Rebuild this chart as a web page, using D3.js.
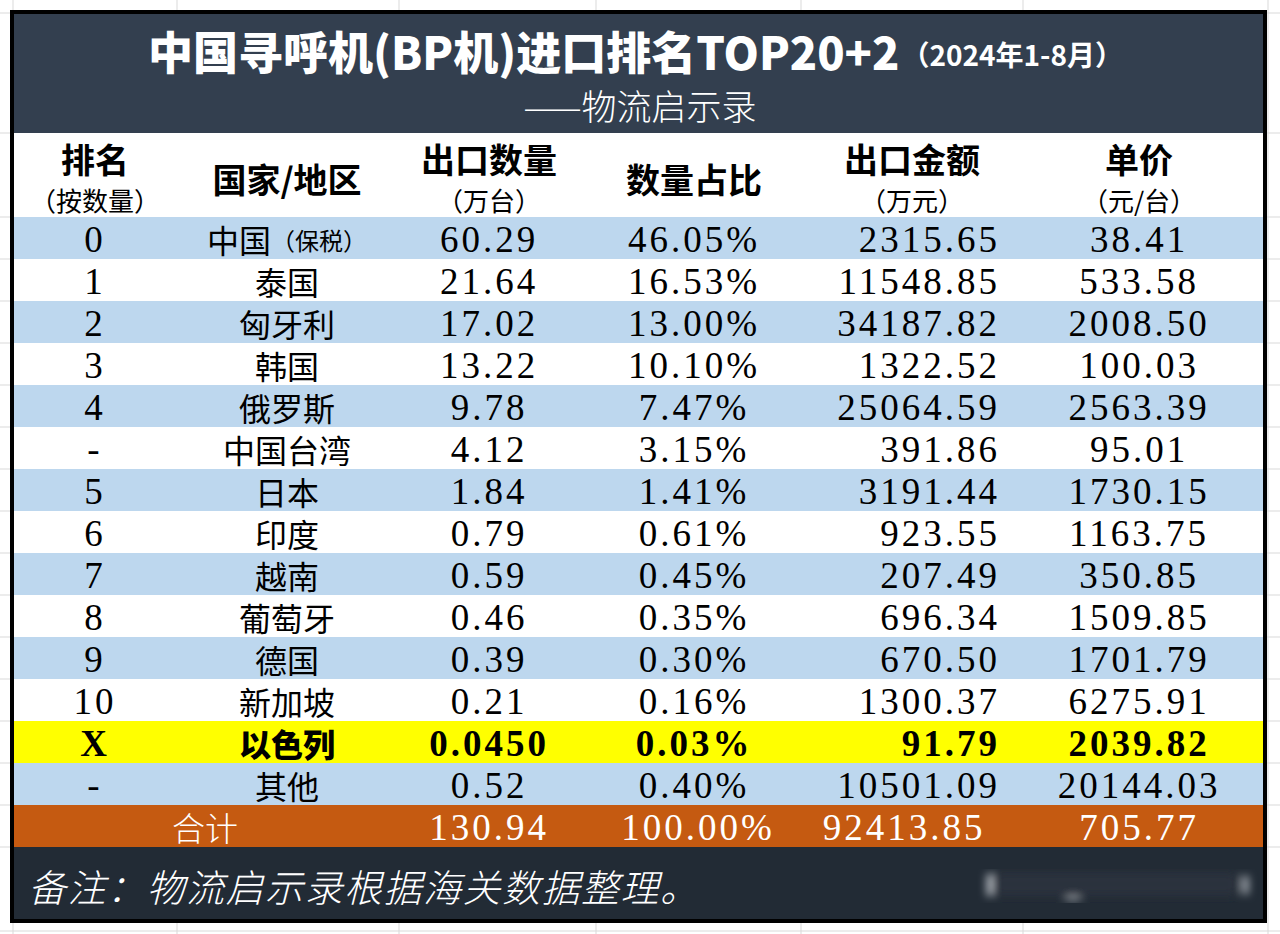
<!DOCTYPE html>
<html><head><meta charset="utf-8">
<script src="https://cdn.jsdelivr.net/npm/d3@7"></script>
<style>html,body{margin:0;padding:0;background:#fff;}svg{display:block;}</style>
</head><body>
<script>
// ---------- data ----------
const titleMain = "中国寻呼机(BP机)进口排名TOP20+2";
const titleDate = "（2024年1-8月）";
const subtitle = "——物流启示录";
const headers = [
  {main:"排名", sub:"（按数量）"},
  {main:"国家/地区", sub:null},
  {main:"出口数量", sub:"（万台）"},
  {main:"数量占比", sub:null},
  {main:"出口金额", sub:"（万元）"},
  {main:"单价", sub:"（元/台）"}
];
const ranks = ["0","1","2","3","4","-","5","6","7","8","9","10","X","-"];
const countries = ["中国","泰国","匈牙利","韩国","俄罗斯","中国台湾","日本","印度","越南","葡萄牙","德国","新加坡","以色列","其他"];
const countryNotes = ["（保税）","","","","","","","","","","","","",""];
const quantities = ["60.29","21.64","17.02","13.22","9.78","4.12","1.84","0.79","0.59","0.46","0.39","0.21","0.0450","0.52"];
const shares = ["46.05%","16.53%","13.00%","10.10%","7.47%","3.15%","1.41%","0.61%","0.45%","0.35%","0.30%","0.16%","0.03%","0.40%"];
const amounts = ["2315.65","11548.85","34187.82","1322.52","25064.59","391.86","3191.44","923.55","207.49","696.34","670.50","1300.37","91.79","10501.09"];
const prices = ["38.41","533.58","2008.50","100.03","2563.39","95.01","1730.15","1163.75","350.85","1509.85","1701.79","6275.91","2039.82","20144.03"];
const highlightRank = "X";
const totalLabel = "合计";
const totals = ["130.94","100.00%","92413.85","705.77"];
const footnote = "备注：物流启示录根据海关数据整理。";

// ---------- layout ----------
const W = 1280, H = 934;
const frame = {x0:10, y0:10, x1:1267, y1:923};
const inner = {x0:14, x1:1263};
const titleTop = 14, headTop = 133, rowTop = 217, rowH = 42;
const nRows = ranks.length + 1;
const footTop = rowTop + nRows*rowH;
const C = {blue:"#bdd7ee", yellow:"#ffff00", orange:"#c55a11", title:"#333f4f", foot:"#222b35", grid:"#d9d9d9"};
const CJK = "'Noto Sans CJK SC','Noto Sans',sans-serif";
const NUM = "'Liberation Serif','DejaVu Serif',serif";
const LS = 3;

const svg = d3.select("body").append("svg").attr("width",W).attr("height",H);

// spreadsheet gridlines in background
const rowIdx = d3.range(nRows);
const y = d3.scaleBand().domain(rowIdx).range([rowTop, rowTop + nRows*rowH]);
const gx = [13,177,399,596,801,1023,1268];
const gy = [13, headTop].concat(rowIdx.map(i=>y(i)), [footTop, 931]);
svg.append("g").selectAll("line").data(gx).join("line")
  .attr("x1",d=>d).attr("x2",d=>d).attr("y1",0).attr("y2",H)
  .attr("stroke",C.grid).attr("stroke-width",1);
svg.append("g").selectAll("line").data(gy).join("line")
  .attr("x1",0).attr("x2",W).attr("y1",d=>d).attr("y2",d=>d)
  .attr("stroke",C.grid).attr("stroke-width",1);

// frame
svg.append("rect").attr("x",frame.x0).attr("y",frame.y0)
  .attr("width",frame.x1-frame.x0).attr("height",frame.y1-frame.y0).attr("fill","#000");
svg.append("rect").attr("x",inner.x0).attr("y",titleTop)
  .attr("width",inner.x1-inner.x0).attr("height",headTop-titleTop).attr("fill",C.title);
svg.append("rect").attr("x",inner.x0).attr("y",headTop)
  .attr("width",inner.x1-inner.x0).attr("height",rowTop-headTop).attr("fill","#fff");

// row backgrounds
const lastData = ranks.length - 1;
svg.append("g").selectAll("rect").data(rowIdx).join("rect")
  .attr("x",inner.x0).attr("width",inner.x1-inner.x0)
  .attr("y",d=>y(d)).attr("height",y.bandwidth())
  .attr("fill",d=> d===nRows-1 ? C.orange : (ranks[d]===highlightRank ? C.yellow : ((d%2===0 || d===lastData) ? C.blue : "#fff")));

// footer band
svg.append("rect").attr("x",inner.x0).attr("y",footTop)
  .attr("width",inner.x1-inner.x0).attr("height",919-footTop).attr("fill",C.foot);

// title
const t = svg.append("text").attr("x",148).attr("y",70).attr("fill","#fff")
  .attr("font-family",CJK);
t.append("tspan").attr("font-size",45).attr("font-weight",900).text(titleMain);
t.append("tspan").attr("font-size",28).attr("font-weight",700).attr("dx",2).attr("dy",-4).text(titleDate);
svg.append("text").attr("x",640).attr("y",104).attr("text-anchor","middle")
  .attr("dominant-baseline","central").attr("fill","#fff")
  .attr("font-family",CJK).attr("font-size",35).attr("font-weight",300).text(subtitle);

// column centers
const colX = [95, 287, 489, 694, 912, 1139];
const amountRight = 1000;

// header
const hg = svg.append("g").attr("font-family",CJK).attr("fill","#000");
headers.forEach((h,i)=>{
  if (h.sub) {
    hg.append("text").attr("x",colX[i]).attr("y",158).attr("text-anchor","middle")
      .attr("dominant-baseline","central").attr("font-size",34).attr("font-weight",700).text(h.main);
    hg.append("text").attr("x",colX[i]).attr("y",199).attr("text-anchor","middle")
      .attr("dominant-baseline","central").attr("font-size",26).attr("font-weight",400).text(h.sub);
  } else {
    hg.append("text").attr("x",colX[i]).attr("y",178).attr("text-anchor","middle")
      .attr("dominant-baseline","central").attr("font-size",34).attr("font-weight",700).text(h.main);
  }
});

// data rows
const rows = ranks.map((r,i)=>({i, rank:r, country:countries[i], note:countryNotes[i],
  qty:quantities[i], share:shares[i], amount:amounts[i], price:prices[i]}));
const rg = svg.append("g").selectAll("g").data(rows).join("g")
  .attr("transform",d=>`translate(0,${y(d.i)+y.bandwidth()/2+1})`)
  .attr("font-weight",d=>d.rank===highlightRank?700:400)
  .attr("fill","#000");

function num(sel, x, anchor, txt){
  sel.append("text").attr("x",x).attr("text-anchor",anchor).attr("dominant-baseline","central")
    .attr("font-family",NUM).attr("font-size",37).attr("letter-spacing",LS).text(txt);
}
rg.each(function(d){
  const g = d3.select(this);
  num(g, colX[0], "middle", d.rank);
  const ct = g.append("text").attr("x",colX[1]).attr("text-anchor","middle")
    .attr("dominant-baseline","central").attr("font-family",CJK).attr("font-size",32)
    .attr("font-weight",d.rank===highlightRank?900:400);
  ct.append("tspan").text(d.country);
  if (d.note) ct.append("tspan").attr("font-size",24).text(d.note);
  num(g, colX[2], "middle", d.qty);
  num(g, colX[3], "middle", d.share);
  num(g, amountRight, "end", d.amount);
  num(g, colX[5], "middle", d.price);
});

// total row
const tg = svg.append("g").attr("transform",`translate(0,${y(nRows-1)+y.bandwidth()/2+1})`).attr("fill","#fff");
tg.append("text").attr("x",205).attr("text-anchor","middle").attr("dominant-baseline","central")
  .attr("font-family",CJK).attr("font-size",33).attr("font-weight",300).text(totalLabel);
[colX[2], colX[3]+4, 904, colX[5]].forEach((x,k)=> num(tg, x, "middle", totals[k]));

// footnote
svg.append("text").attr("x",28).attr("y",885).attr("dominant-baseline","central")
  .attr("fill","#fff").attr("font-family",CJK).attr("font-size",38).attr("font-style","italic")
  .attr("font-weight",300).attr("letter-spacing",1.5).text(footnote);

// blurred watermark
const defs = svg.append("defs");
defs.append("filter").attr("id","blur").append("feGaussianBlur").attr("stdDeviation",4);
const wm = svg.append("g").attr("filter","url(#blur)");
wm.append("rect").attr("x",992).attr("y",872).attr("width",246).attr("height",24).attr("rx",8).attr("fill","#2b333e");
wm.append("rect").attr("x",987).attr("y",874).attr("width",5).attr("height",22).attr("fill","#c9ced4");
wm.append("rect").attr("x",1243).attr("y",876).attr("width",5).attr("height",18).attr("fill","#c9ced4");
wm.append("rect").attr("x",1066).attr("y",897).attr("width",14).attr("height",3).attr("fill","#b9bec4");
</script>
</body></html>
